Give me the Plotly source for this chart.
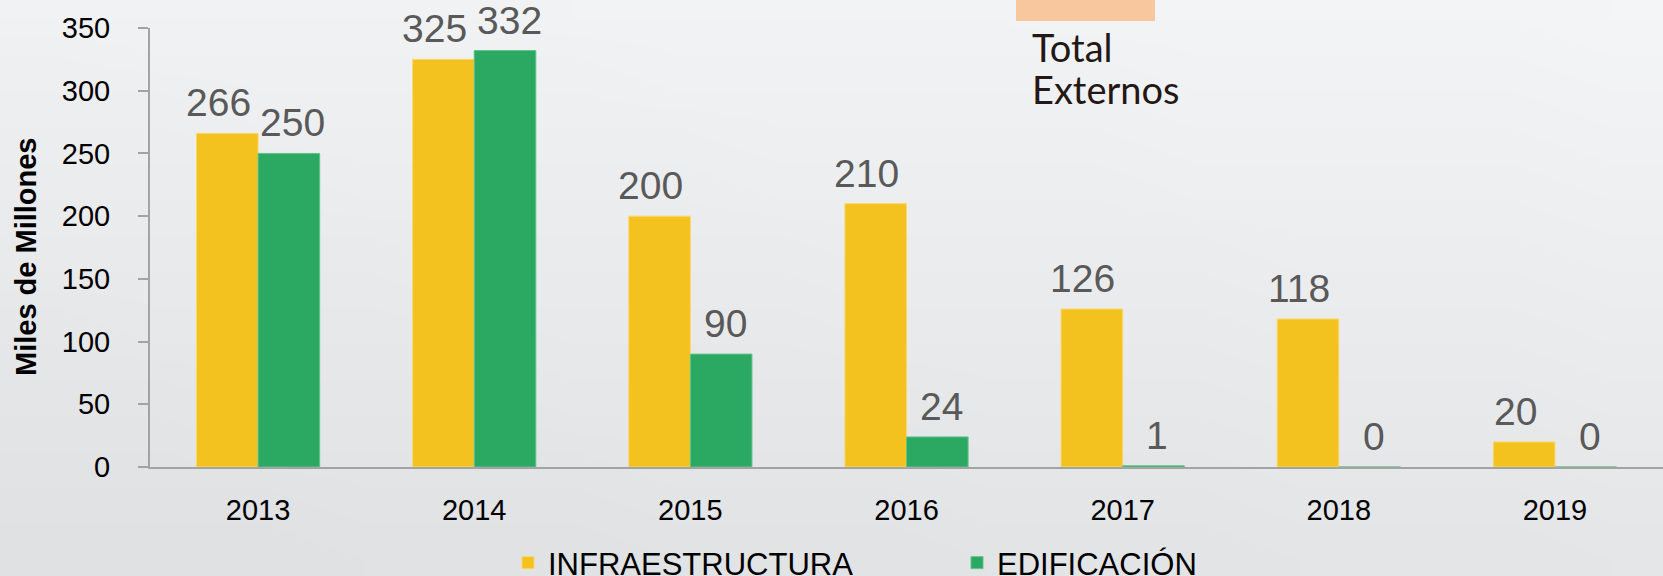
import base64
import struct
import zlib

import plotly.graph_objects as go

# data
years = ["2013", "2014", "2015", "2016", "2017", "2018", "2019"]
infraestructura = [266, 325, 200, 210, 126, 118, 20]
edificacion = [250, 332, 90, 24, 1, 0, 0]
series_names = ["INFRAESTRUCTURA", "EDIFICACIÓN"]
y_ticks = [0, 50, 100, 150, 200, 250, 300, 350]
y_title = "Miles de Millones"
box_title = ["Total", "Externos"]

YELLOW = "#f4c21f"
GREEN = "#2ba862"
LABEL_GRAY = "#595959"
AXIS_GRAY = "#a3a3a3"
FONT = "Liberation Sans, Arial, sans-serif"

W, H = 1663, 576
ML, MR, MT, MB = 150, 0, 28, 109
PW, PH = W - ML - MR, H - MT - MB
BARGAP = 0.43


def px(x):
    # canvas pixel -> paper x
    return (x - ML) / PW


def py(y):
    # canvas pixel -> paper y
    return (H - MB - y) / PH


def gradient_png(w, h):
    """Tiny PNG with the soft grey background gradient."""
    rows = []
    for j in range(h):
        v = j / (h - 1)
        row = bytearray([0])
        for i in range(w):
            u = i / (w - 1)
            base = 244 - 15 * v - 5 * (1 - u) * v - 3 * (1 - u) * (1 - v)
            row += bytes([int(base), int(base + 1), int(base + 3)])
        rows.append(bytes(row))
    raw = b"".join(rows)

    def chunk(tag, data):
        return (struct.pack(">I", len(data)) + tag + data
                + struct.pack(">I", zlib.crc32(tag + data) & 0xffffffff))

    png = (b"\x89PNG\r\n\x1a\n"
           + chunk(b"IHDR", struct.pack(">IIBBBBB", w, h, 8, 2, 0, 0, 0))
           + chunk(b"IDAT", zlib.compress(raw))
           + chunk(b"IEND", b""))
    return "data:image/png;base64," + base64.b64encode(png).decode()


fig = go.Figure()
fig.add_trace(go.Bar(
    x=years, y=infraestructura, name=series_names[0],
    marker=dict(color=YELLOW, line=dict(color="#f9d86e", width=1)),
    hoverinfo="x+y+name",
))
fig.add_trace(go.Bar(
    x=years, y=edificacion, name=series_names[1],
    marker=dict(color=GREEN, line=dict(color="#62c28c", width=1)),
    hoverinfo="x+y+name",
))

# value labels sit a bit above each bar, nudged like the original
half = (1 - BARGAP) / 4
annotations = []
for i, (a, b) in enumerate(zip(infraestructura, edificacion)):
    for val, off, nudge in ((a, -half, -9), (b, half, 4)):
        annotations.append(dict(
            x=i + off, y=val, xref="x", yref="y",
            text=str(val), showarrow=False,
            xanchor="center", yanchor="bottom", xshift=nudge, yshift=7,
            font=dict(family=FONT, size=39, color=LABEL_GRAY),
        ))

# "Total Externos" box in the top area
for txt, ypix in zip(box_title, (47, 89)):
    annotations.append(dict(
        x=px(1030), y=py(ypix), xref="paper", yref="paper",
        text=txt, showarrow=False, xanchor="left", yanchor="middle",
        font=dict(family="Lato, Open Sans, sans-serif", size=38, color="#231815"),
    ))

# y axis title, placed by hand (sits a little below the plot centre)
annotations.append(dict(
    x=px(26), y=py(257), xref="paper", yref="paper",
    text="<b>%s</b>" % y_title, textangle=-90, showarrow=False,
    xanchor="center", yanchor="middle",
    font=dict(family=FONT, size=29, color="black"),
))

fig.update_layout(
    width=W, height=H,
    margin=dict(l=ML, r=MR, t=MT, b=MB, autoexpand=False),
    paper_bgcolor="#eceef1",
    plot_bgcolor="rgba(0,0,0,0)",
    barmode="group",
    bargap=BARGAP,
    bargroupgap=0,
    font=dict(family=FONT, color="black"),
    xaxis=dict(
        type="category",
        showline=True, linecolor=AXIS_GRAY, linewidth=2,
        ticks="", showgrid=False,
        tickfont=dict(size=29, color="black"),
        ticklabelstandoff=16,
    ),
    yaxis=dict(
        range=[0, 350], tickvals=y_ticks,
        showline=True, linecolor=AXIS_GRAY, linewidth=2,
        ticks="outside", ticklen=10, tickwidth=2, tickcolor=AXIS_GRAY,
        showgrid=False, zeroline=False,
        tickfont=dict(size=29, color="black"),
        ticklabelstandoff=22,
    ),
    showlegend=True,
    legend=dict(
        orientation="h",
        xref="container", yref="container",
        x=508 / W, y=1 - 536 / H,
        xanchor="left", yanchor="top",
        entrywidth=404,
        bgcolor="rgba(0,0,0,0)",
        font=dict(family=FONT, size=31, color="black"),
        traceorder="normal",
    ),
    shapes=[dict(
        type="rect", xref="paper", yref="paper",
        x0=px(1016), x1=px(1155), y0=py(21), y1=py(-2),
        fillcolor="#f8c79d", line=dict(width=0), layer="above",
    )],
    images=[dict(
        source=gradient_png(16, 16),
        xref="paper", yref="paper",
        x=px(0), y=py(0), sizex=W / PW, sizey=H / PH,
        xanchor="left", yanchor="top", sizing="stretch", layer="below",
    )],
    annotations=annotations,
)

# drop the browser's default body margin so the chart sits at the page corner
fig.write_html("out.html", config={"displayModeBar": False},
               post_script="document.body.style.margin = '0';")
